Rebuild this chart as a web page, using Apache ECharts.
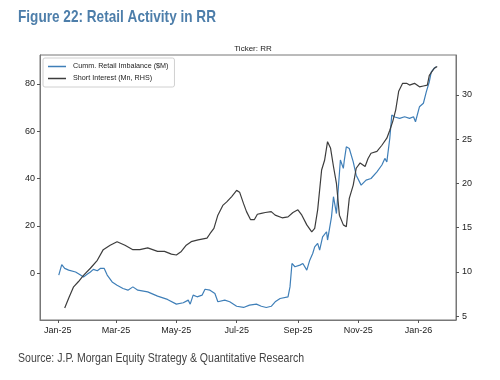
<!DOCTYPE html>
<html>
<head>
<meta charset="utf-8">
<script src="https://cdn.jsdelivr.net/npm/echarts@6/dist/echarts.min.js"></script>
<style>html,body{margin:0;padding:0;background:#fff}#c{width:500px;height:380px}</style>
</head>
<body>
<div id="c"></div>
<script>
// ---- data ----
var retailDates = ['2025-01-02','2025-01-05','2025-01-08','2025-01-12','2025-01-14','2025-01-19','2025-01-24','2025-01-27','2025-01-31','2025-02-03','2025-02-06','2025-02-10','2025-02-13','2025-02-17','2025-02-20','2025-02-25','2025-03-02','2025-03-08','2025-03-13','2025-03-18','2025-03-23','2025-04-02','2025-04-12','2025-04-22','2025-05-01','2025-05-08','2025-05-13','2025-05-15','2025-05-18','2025-05-22','2025-05-27','2025-05-30','2025-06-04','2025-06-09','2025-06-12','2025-06-19','2025-06-24','2025-07-01','2025-07-08','2025-07-14','2025-07-21','2025-07-26','2025-07-31','2025-08-05','2025-08-09','2025-08-14','2025-08-22','2025-08-24','2025-08-26','2025-08-29','2025-09-03','2025-09-06','2025-09-10','2025-09-13','2025-09-16','2025-09-18','2025-09-21','2025-09-23','2025-09-26','2025-09-30','2025-10-01','2025-10-05','2025-10-07','2025-10-10','2025-10-12','2025-10-14','2025-10-17','2025-10-18','2025-10-20','2025-10-23','2025-10-27','2025-10-30','2025-11-04','2025-11-09','2025-11-14','2025-11-20','2025-11-25','2025-11-28','2025-11-30','2025-12-03','2025-12-05','2025-12-08','2025-12-13','2025-12-18','2025-12-23','2025-12-27','2025-12-29','2026-01-02','2026-01-06','2026-01-09','2026-01-12','2026-01-14','2026-01-17','2026-01-19'];
var retailValues = [-0.8,3.6,2.0,1.3,2.1,0.5,-0.8,-1.6,-0.4,0.5,1.6,1.0,2.0,2.0,-0.8,-3.7,-5.1,-6.5,-7.2,-5.8,-7.2,-7.9,-9.7,-11.1,-13.1,-12.5,-11.4,-13.1,-9.3,-10.0,-9.3,-6.8,-7.2,-8.6,-12.1,-11.4,-12.1,-14.0,-14.5,-13.5,-13.1,-14.0,-14.5,-14.0,-12.1,-10.7,-10.0,-5.8,4.1,2.7,3.4,4.1,1.3,5.5,8.3,11.1,12.6,9.7,15.3,17.5,14.0,23.8,32.3,25.2,25.9,47.8,44.3,47.8,53.4,52.7,47.0,41.4,37.2,39.3,40.0,42.8,45.7,48.5,47.0,57.0,66.8,66.0,65.4,66.1,65.4,66.1,64.0,70.3,71.8,76.7,80.9,85.1,86.6,87.2];

var shortDates = ['2025-01-08','2025-01-12','2025-01-17','2025-01-22','2025-01-27','2025-02-03','2025-02-10','2025-02-16','2025-02-23','2025-03-02','2025-03-10','2025-03-18','2025-03-25','2025-04-02','2025-04-12','2025-04-19','2025-04-26','2025-05-01','2025-05-06','2025-05-11','2025-05-16','2025-05-23','2025-06-01','2025-06-04','2025-06-08','2025-06-12','2025-06-17','2025-06-21','2025-06-26','2025-07-01','2025-07-04','2025-07-08','2025-07-11','2025-07-15','2025-07-19','2025-07-22','2025-07-26','2025-07-30','2025-08-05','2025-08-09','2025-08-16','2025-08-22','2025-08-27','2025-09-01','2025-09-05','2025-09-10','2025-09-15','2025-09-18','2025-09-21','2025-09-25','2025-09-28','2025-10-01','2025-10-04','2025-10-07','2025-10-10','2025-10-13','2025-10-17','2025-10-20','2025-10-23','2025-10-27','2025-10-30','2025-11-03','2025-11-08','2025-11-11','2025-11-14','2025-11-20','2025-11-25','2025-11-30','2025-12-03','2025-12-06','2025-12-09','2025-12-12','2025-12-16','2025-12-20','2025-12-23','2025-12-28','2026-01-02','2026-01-06','2026-01-10','2026-01-12','2026-01-17','2026-01-20'];
var shortValues = [5.9,7.0,8.3,8.9,9.6,10.4,11.3,12.5,13.0,13.4,13.0,12.5,12.5,12.7,12.3,12.3,12.0,11.9,12.3,13.0,13.4,13.6,13.8,14.3,14.9,16.4,17.5,17.9,18.5,19.2,19.0,17.7,16.8,15.9,15.9,16.5,16.6,16.7,16.8,16.4,16.1,16.2,16.7,17.0,16.4,15.3,14.5,14.9,17.0,21.5,22.6,24.7,24.0,21.9,20.0,16.4,15.3,15.1,18.3,19.8,21.7,22.3,21.9,22.8,23.4,23.6,24.3,25.1,26.0,27.0,28.3,30.4,31.3,31.3,31.1,31.3,30.9,31.0,31.1,32.2,33.0,33.2];

var xTickDates = ['2025-01-01','2025-03-01','2025-05-01','2025-07-01','2025-09-01','2025-11-01','2026-01-01'];
var xTickLabels = ['Jan-25','Mar-25','May-25','Jul-25','Sep-25','Nov-25','Jan-26'];
var leftTicks = [0, 20, 40, 60, 80];
var rightTicks = [5, 10, 15, 20, 25, 30];

var seriesNames = ['Cumm. Retail Imbalance ($M)', 'Short Interest (Mn, RHS)'];
var titleText = 'Figure 22: Retail Activity in RR';
var subtitleText = 'Ticker: RR';
var sourceText = 'Source: J.P. Morgan Equity Strategy & Quantitative Research';

// ---- build ----
// dates -> day number (UTC) so a plain value axis can carry them
function dn(s){ var p = s.split('-'); return Date.UTC(+p[0], +p[1]-1, +p[2]) / 86400000; }
var xTickPos = xTickDates.map(dn);
var labelMap = {};
xTickPos.forEach(function(t,i){ labelMap[t] = xTickLabels[i]; });

var retailData = retailDates.map(function(d,i){ return [dn(d), retailValues[i]]; });
var shortData = shortDates.map(function(d,i){ return [dn(d), shortValues[i]]; });

var chart = echarts.init(document.getElementById('c'), null, {renderer:'canvas'});
var axisTxt = {color:'#222', fontSize:9, fontFamily:'Liberation Sans, Arial, sans-serif'};
chart.setOption({
  animation:false,
  backgroundColor:'#fff',
  title:[
    {text:subtitleText, left:248, top:40, textAlign:'center', textStyle:{fontFamily:'Liberation Sans, Arial, sans-serif', fontWeight:'normal', fontSize:8, color:'#222'}}
  ],
  graphic:[
    {type:'text', x:18, y:9, scaleX:0.8, style:{text:titleText, font:'bold 17px "Liberation Sans", Arial, sans-serif', fill:'#4d7eaa', verticalAlign:'top'}},
    {type:'text', x:18, y:352, scaleX:0.81, style:{text:sourceText, font:'13px "Liberation Sans", Arial, sans-serif', fill:'#444', verticalAlign:'top'}}
  ],
  legend:{
    orient:'vertical', left:43, top:58,
    backgroundColor:'#fff', borderColor:'#d0d0d0', borderWidth:1, borderRadius:2,
    padding:[5,6,5,5], itemGap:5, itemWidth:18, itemHeight:1.5, icon:'rect',
    textStyle:{fontSize:7.2, color:'#222', fontFamily:'Liberation Sans, Arial, sans-serif', padding:[0,0,0,2]},
    data:seriesNames
  },
  grid:{left:40, right:44, top:55, bottom:60, show:true, borderColor:'#777', borderWidth:1},
  xAxis:{
    type:'value', min:dn('2024-12-14'), max:dn('2026-02-08'),
    axisLine:{show:true, onZero:false, lineStyle:{color:'#777'}},
    axisTick:{show:true, customValues:xTickPos, length:3, lineStyle:{color:'#555'}},
    axisLabel:Object.assign({customValues:xTickPos, margin:6, formatter:function(v){ return labelMap[v] || ''; }}, axisTxt),
    splitLine:{show:false}
  },
  yAxis:[
    {type:'value', min:-19.8, max:92.2, position:'left',
     axisLine:{show:true, lineStyle:{color:'#777'}},
     axisTick:{show:true, customValues:leftTicks, length:3, lineStyle:{color:'#555'}},
     axisLabel:Object.assign({customValues:leftTicks, margin:5}, axisTxt),
     splitLine:{show:false}},
    {type:'value', min:4.55, max:34.5, position:'right',
     axisLine:{show:true, lineStyle:{color:'#777'}},
     axisTick:{show:true, customValues:rightTicks, length:3, lineStyle:{color:'#555'}},
     axisLabel:Object.assign({customValues:rightTicks, margin:6}, axisTxt),
     splitLine:{show:false}}
  ],
  series:[
    {name:seriesNames[0], type:'line', yAxisIndex:0, data:retailData, symbol:'none', smooth:false,
     lineStyle:{color:'#3f7fb8', width:1.2}, itemStyle:{color:'#3f7fb8'}, z:2},
    {name:seriesNames[1], type:'line', yAxisIndex:1, data:shortData, symbol:'none', smooth:false,
     lineStyle:{color:'#3d3d3d', width:1.2}, itemStyle:{color:'#3d3d3d'}, z:3}
  ]
});
</script>
</body>
</html>
